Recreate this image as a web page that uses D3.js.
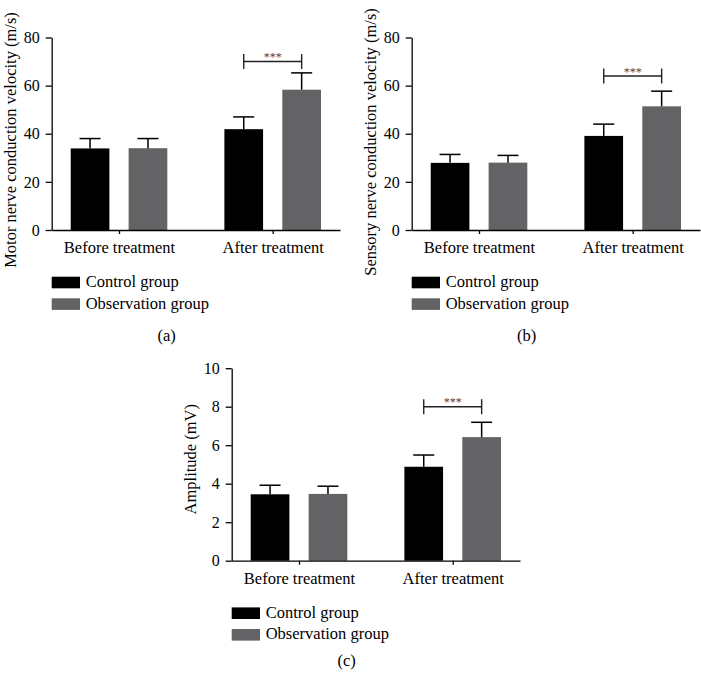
<!DOCTYPE html>
<html>
<head>
<meta charset="utf-8">
<script src="https://cdn.jsdelivr.net/npm/d3@7"></script>
<style>
  html, body { margin: 0; padding: 0; background: #fff; }
  svg { display: block; }
  text { font-family: "Liberation Serif", "Times New Roman", serif; fill: #000; }
</style>
</head>
<body>
<div id="chart"></div>
<script>
// ---------- data ----------
const categories = ["Before treatment", "After treatment"];
const groups = ["Control group", "Observation group"];

const motorControl = [33.9, 41.9];
const motorControlSD = [4.1, 5.1];
const motorObservation = [34.0, 58.3];
const motorObservationSD = [4.0, 7.0];
const motorTicks = [0, 20, 40, 60, 80];
const motorBracket = 70;

const sensoryControl = [27.9, 39.1];
const sensoryControlSD = [3.5, 4.9];
const sensoryObservation = [28.0, 51.4];
const sensoryObservationSD = [3.0, 6.3];
const sensoryTicks = [0, 20, 40, 60, 80];
const sensoryBracket = 64;

const ampControl = [3.45, 4.88];
const ampControlSD = [0.47, 0.61];
const ampObservation = [3.47, 6.42];
const ampObservationSD = [0.40, 0.77];
const ampTicks = [0, 2, 4, 6, 8, 10];
const ampBracket = 8.0;

const significance = "***";
const colors = ["#000000", "#636366"];

// ---------- layout ----------
const W = 701, H = 674;
const svg = d3.select("#chart").append("svg").attr("width", W).attr("height", H);
svg.append("rect").attr("width", W).attr("height", H).attr("fill", "#fff");

const panels = [
  { caption: "(a)", ylabel: "Motor nerve conduction velocity (m/s)",
    series: [motorControl, motorObservation], sd: [motorControlSD, motorObservationSD],
    ticks: motorTicks, bracket: motorBracket, ox: 0, oy: 0, labelCy: 140, capY: 341 },
  { caption: "(b)", ylabel: "Sensory nerve conduction velocity (m/s)",
    series: [sensoryControl, sensoryObservation], sd: [sensoryControlSD, sensoryObservationSD],
    ticks: sensoryTicks, bracket: sensoryBracket, ox: 360, oy: 0, labelCy: 142, capY: 341 },
  { caption: "(c)", ylabel: "Amplitude (mV)",
    series: [ampControl, ampObservation], sd: [ampControlSD, ampObservationSD],
    ticks: ampTicks, bracket: ampBracket, ox: 180, oy: 330.7, labelCy: 128.5, capY: 335.5 }
];

const axisX = 51.7, xEnd = 340, yTop = 37.5, yBottom = 230;

panels.forEach(p => {
  const g = svg.append("g").attr("transform", `translate(${p.ox},${p.oy})`);
  const yMax = p.ticks[p.ticks.length - 1];
  const y = d3.scaleLinear().domain([0, yMax]).range([yBottom, yTop]);
  const x = d3.scalePoint().domain(categories).range([axisX, xEnd]).padding(0.438);
  const xs = d3.scaleBand().domain(groups).range([-48.3, 48.3]).paddingInner(0.332);

  // bars
  groups.forEach((grp, gi) => {
    categories.forEach((cat, ci) => {
      const v = p.series[gi][ci];
      const sd = p.sd[gi][ci];
      const bx = x(cat) + xs(grp);
      const cx = bx + xs.bandwidth() / 2;
      g.append("rect")
        .attr("x", bx).attr("y", y(v))
        .attr("width", xs.bandwidth()).attr("height", y(0) - y(v))
        .attr("fill", colors[gi]);
      // error bar (upper only)
      g.append("line").attr("x1", cx).attr("x2", cx)
        .attr("y1", y(v)).attr("y2", y(v + sd))
        .attr("stroke", "#000").attr("stroke-width", 1.5);
      g.append("line").attr("x1", cx - 10.5).attr("x2", cx + 10.5)
        .attr("y1", y(v + sd)).attr("y2", y(v + sd))
        .attr("stroke", "#000").attr("stroke-width", 1.5);
    });
  });

  // significance bracket on "After treatment"
  const cat = categories[1];
  const c0 = x(cat) + xs(groups[0]) + xs.bandwidth() / 2;
  const c1 = x(cat) + xs(groups[1]) + xs.bandwidth() / 2;
  const by = y(p.bracket);
  const br = g.append("g").attr("stroke", "#222").attr("stroke-width", 1.4);
  br.append("line").attr("x1", c0).attr("x2", c1).attr("y1", by).attr("y2", by);
  br.append("line").attr("x1", c0).attr("x2", c0).attr("y1", by - 7.5).attr("y2", by + 7.5);
  br.append("line").attr("x1", c1).attr("x2", c1).attr("y1", by - 7.5).attr("y2", by + 7.5);
  g.append("text").attr("x", (c0 + c1) / 2).attr("y", by - 0.5)
    .attr("text-anchor", "middle").attr("font-size", 12).style("fill", "#444")
    .text(significance);

  // y axis
  const ya = g.append("g").attr("transform", `translate(${axisX},0)`)
    .call(d3.axisLeft(y).tickValues(p.ticks).tickSize(6).tickSizeOuter(0).tickPadding(6));
  ya.select(".domain").attr("stroke", "#000").attr("stroke-width", 1.3);
  ya.selectAll(".tick line").attr("stroke", "#000").attr("stroke-width", 1.3);
  ya.selectAll(".tick text").attr("font-size", 16).attr("font-family", "Liberation Serif").style("fill", "#000");

  // x axis
  const xa = g.append("g").attr("transform", `translate(0,${yBottom})`)
    .call(d3.axisBottom(x).tickSize(4).tickSizeOuter(0));
  xa.select(".domain").attr("stroke", "#000").attr("stroke-width", 1.3);
  xa.selectAll(".tick line").attr("stroke", "#000").attr("stroke-width", 1.3);
  xa.selectAll(".tick text").attr("font-size", 16.5).attr("font-family", "Liberation Serif")
    .attr("y", 23).attr("dy", 0).style("fill", "#000");

  // y label
  g.append("text")
    .attr("transform", `translate(${axisX - 36},${p.labelCy}) rotate(-90)`)
    .attr("text-anchor", "middle").attr("font-size", 16.5)
    .text(p.ylabel);

  // legend
  groups.forEach((grp, gi) => {
    const ly = 276.7 + gi * 21.6;
    g.append("rect").attr("x", axisX).attr("y", ly).attr("width", 28.3).attr("height", 11.6)
      .attr("fill", colors[gi]);
    g.append("text").attr("x", axisX + 34).attr("y", ly + 10.5)
      .attr("font-size", 16.5).text(grp);
  });

  // caption
  g.append("text").attr("x", axisX + 115).attr("y", p.capY)
    .attr("text-anchor", "middle").attr("font-size", 16.5).text(p.caption);
});
</script>
</body>
</html>
